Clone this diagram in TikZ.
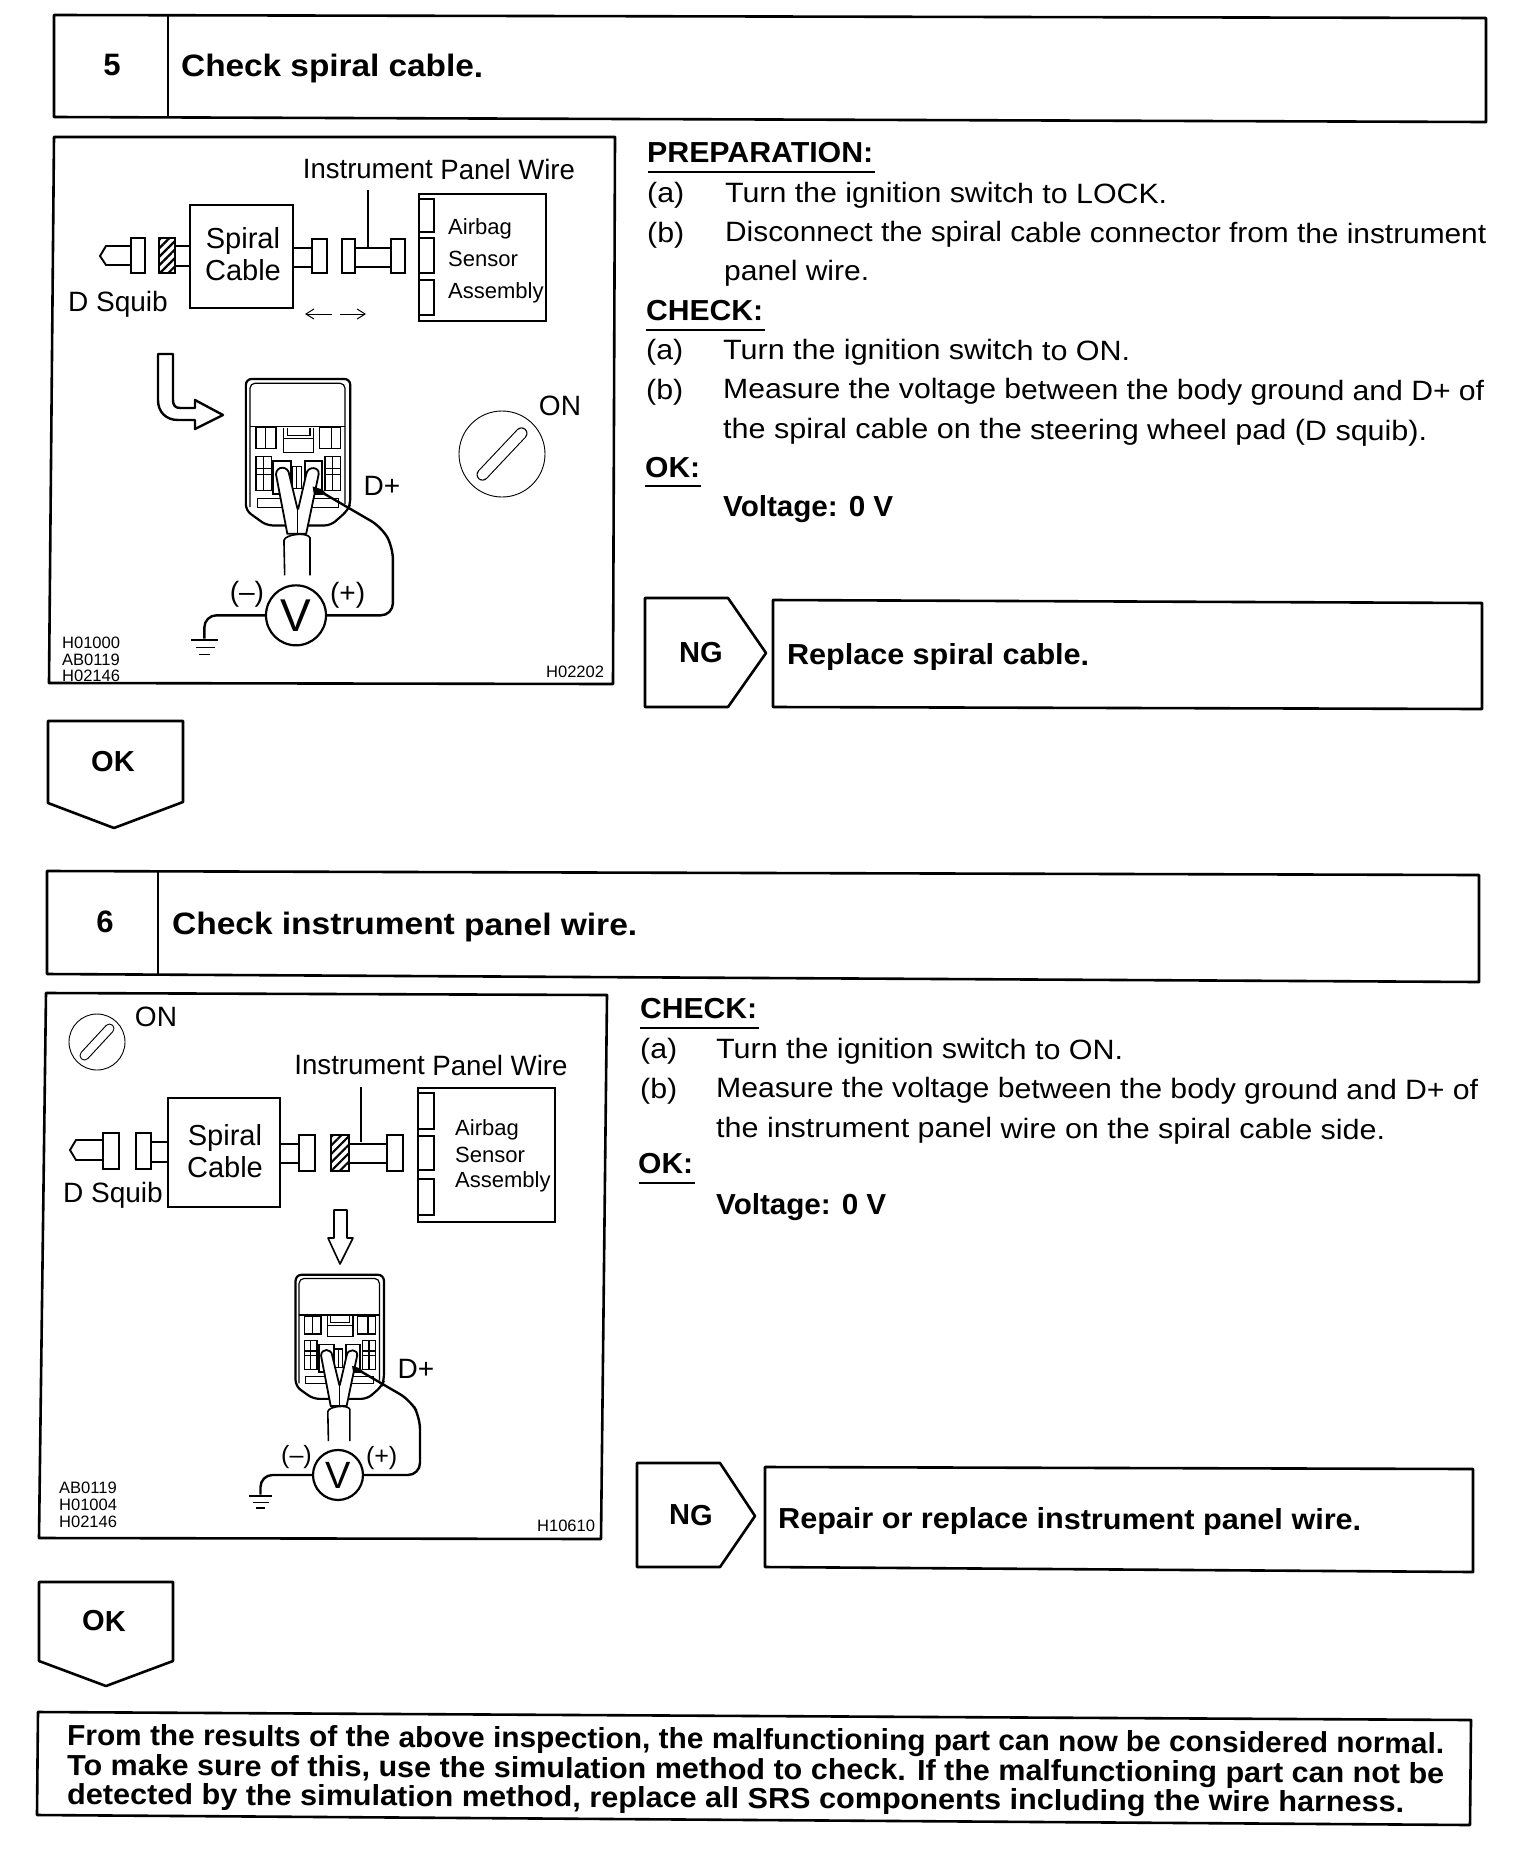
\documentclass[tikz,border=0pt]{standalone}
\usepackage{graphicx}
\usepackage{fontspec}
\setmainfont{Liberation Sans}
\usetikzlibrary{patterns.meta,arrows.meta}
\newcommand\sz[1]{\fontsize{#1}{#1}\selectfont}
% name x y size width text
\newcommand\lbl[6]{\node[txt] (#1) at (#2,#3) {\resizebox{#5pt}{\height}{\sz{#4}#6}};}
\newcommand\blbl[6]{\node[txt] (#1) at (#2,#3) {\resizebox{#5pt}{\height}{\sz{#4}\bfseries #6}};}
\newcommand\ctr[5]{\node[ctxt] (#1) at (#2,#3) {\sz{#4}#5};}
\newcommand\ctb[5]{\node[ctxt] (#1) at (#2,#3) {\sz{#4}\bfseries #5};}
% x y r slot-dx slot-dy width
\newcommand\ignkey[6]{%
  \draw[thinl] (#1,#2) circle (#3);
  \draw[line width=#6pt,line cap=round] (#1-#4,#2+#4*#5) -- (#1+#4,#2-#4*#5);
  \draw[line width=#6pt-2.2pt,line cap=round,white] (#1-#4,#2+#4*#5) -- (#1+#4,#2-#4*#5);}
% prefix Vx Vy sx sy radius Vfont parenfont
\newcommand\meter[8]{%
\begin{scope}[shift={(#2,#3)},xscale=#4,yscale=#5,shift={(-678,-818)},med]
 \draw[line width=2.2pt,rounded corners=6pt] (545,115)--(822,115)--(822,490)--(815,510)--(770,555)--(600,555)--(545,510)--cycle;
 \draw[rounded corners=5pt] (556,500)--(556,128)--(808,128)--(808,490);
 \draw (556,258)--(808,258);
 \draw (572,262) rectangle (625,325) (597,262)--(597,325);
 \draw (740,262) rectangle (795,325) (772,262)--(772,325);
 \draw (645,262)--(645,335)--(725,335)--(725,262) (655,262)--(655,285)--(715,285)--(715,262) (645,295)--(725,295);
 \draw (572,348) rectangle (612,450) (572,385)--(612,385) (572,402)--(612,402) (592,348)--(592,450);
 \draw (755,348) rectangle (795,450) (755,385)--(795,385) (755,402)--(795,402) (775,348)--(775,450);
 \draw[line width=1.8pt] (618,362) rectangle (665,460);
 \draw[line width=1.8pt] (702,362) rectangle (748,460);
 \draw (668,378) rectangle (692,445) (680,378)--(680,445);
 \draw (575,475) rectangle (650,500);
 \draw (715,475) rectangle (790,500);
 % probes
 \draw[fill=white,line width=1.8pt] (625,402) .. controls (625,375) and (658,375) .. (660,402) -- (682,505) -- (684,505) -- (705,402) .. controls (708,375) and (742,378) .. (738,402) -- (705,580) -- (655,580) -- cycle;
 \draw[line width=1.4pt] (682,505)--(682,578);
 \draw[fill=white,draw=none] (648,600) rectangle (715,705);
 \draw[line width=1.6pt] (648,705)--(646,600) .. controls (650,580) and (710,575) .. (715,592) -- (715,705);
 \fill (722,438)--(748,447)--(760,462)--(725,458)--cycle;
 \node[circle,draw,line width=2.2pt,fill=white,minimum size=#6*2pt,inner sep=0pt] (#1V) at (678,825) {\sz{#7}V};
 \coordinate (#1tip) at (735,448);
 \coordinate (#1g) at (435,895);
 \draw[lead,rounded corners=12pt] (#1tip)--(905,560)--(935,620)--(935,825)--(#1V.east);
 \draw[lead,rounded corners=12pt] (#1V.west)--(435,825)--(#1g);
 \draw[line width=2pt] (400,900)--(472,900);
 \draw[line width=1.6pt] (412,922)--(462,922);
 \draw[line width=1.3pt] (422,942)--(450,942);
 \node[ctxt] (#1m) at (548,762) {\sz{#8}(--)};
 \node[ctxt] (#1p) at (815,764) {\sz{#8}(+)};
\end{scope}}
\tikzset{txt/.style={anchor=base west,inner sep=0pt,rotate=-0.2},
 ctxt/.style={anchor=center,inner sep=0pt,rotate=-0.2},
 box/.style={line width=2.6pt,line join=round,fill=white},
 med/.style={line width=1.2pt},
 thinl/.style={line width=0.9pt},
 part/.style={line width=1.9pt,fill=white},
 lead/.style={line width=2.4pt},
 ul/.style={line width=1.6pt},
 smallarrow/.style={line width=1pt,-{Straight Barb[length=8pt,width=10pt]}}}
\begin{document}
\begin{tikzpicture}[x=1pt,y=-1pt]
\useasboundingbox (0,0) rectangle (1520,1850);
\fill[white] (0,0) rectangle (1520,1850);
% ---------- step 5
\draw[box] (54,15)--(1486,18)--(1486,122)--(54,117)--cycle;
\draw[box] (168,16)--(168,118);
\ctb{n5}{112}{65}{31}{5}
\blbl{h5}{181}{76}{31}{302}{Check spiral cable.}
\draw[box] (54,137)--(615,137)--(613,684)--(49,683)--cycle;
\ctr{ipw5}{439}{169}{28}{\resizebox{272pt}{\height}{Instrument Panel Wire}}
\draw[med] (368,190)--(368,247);
\draw[part] (419,194) rectangle (546,321);
\draw[part] (419,199) rectangle (434,232);
\draw[part] (419,238) rectangle (434,273);
\draw[part] (419,280) rectangle (434,315);
\node[txt] (a5a) at (448,234) {\sz{22}Airbag};
\node[txt] (a5b) at (448,266) {\sz{22}Sensor};
\node[txt] (a5c) at (448,298) {\sz{22}Assembly};
\draw[part] (190,205) rectangle (293,308);
\ctr{s5a}{243}{241}{29}{Spiral}
\ctr{s5b}{243}{270}{29}{Cable}
\draw[part] (131,246)--(106,246)--(100,256)--(106,265)--(131,265);
\draw[part] (131,238) rectangle (145,273);
\draw[part,pattern={Lines[angle=45,distance=6pt,line width=2.2pt]}] (159,238) rectangle (175,273);
\draw[part] (175,246)--(190,246) (175,266)--(190,266);
\draw[part] (293,248)--(312,248) (293,267)--(312,267);
\draw[part] (312,239) rectangle (327,273);
\draw[part] (342,239) rectangle (355,273);
\draw[part] (355,248)--(391,248) (355,267)--(391,267);
\draw[part] (391,239) rectangle (405,273);
\draw[smallarrow] (332,314)--(305,314);
\draw[smallarrow] (340,314)--(366,314);
\ctr{sq5}{118}{304}{28}{D Squib}
\draw[line width=2.4pt,line join=round] (158,354)--(173,354)--(173,400) .. controls (173,405) and (175,408) .. (180,408) --(195,408)--(195,400)--(223,415)--(195,429)--(195,420)--(178,420) .. controls (166,420) and (158,412) .. (158,400)--cycle;
\meter{a}{296}{613}{.377}{.333}{30}{46}{28}
\ctr{dp5}{382}{486}{28}{D+}
\ignkey{502}{454}{43}{19.5}{1.06}{12}
\ctr{on5}{560}{406}{28}{ON}
\node[txt] (c5a) at (62,648) {\sz{16.5}H01000};
\node[txt] (c5b) at (62,665) {\sz{16.5}AB0119};
\node[txt] (c5c) at (62,681) {\sz{16.5}H02146};
\node[txt] (c5d) at (546,677) {\sz{16.5}H02202};
% right text 5
\blbl{t1}{647}{162}{29}{226}{PREPARATION:}
\draw[ul] (648,172)--(875,172);
\lbl{t2}{647}{202}{28}{37}{(a)}
\lbl{t3}{725}{202}{28}{442}{Turn the ignition switch to LOCK.}
\lbl{t4}{647}{242}{28}{37}{(b)}
\lbl{t5}{725}{241}{28}{761}{Disconnect the spiral cable connector from the instrument}
\lbl{t6}{724}{280}{28}{145}{panel wire.}
\blbl{t7}{646}{320}{29}{117}{CHECK:}
\draw[ul] (646,330)--(765,330);
\lbl{t8}{646}{359}{28}{37}{(a)}
\lbl{t9}{723}{359}{28}{407}{Turn the ignition switch to ON.}
\lbl{t10}{646}{399}{28}{37}{(b)}
\lbl{t11}{723}{398}{28}{761}{Measure the voltage between the body ground and D+ of}
\lbl{t12}{723}{438}{28}{704}{the spiral cable on the steering wheel pad (D squib).}
\blbl{t13}{645}{477}{29}{55}{OK:}
\draw[ul] (645,486)--(701,486);
\blbl{t14}{723}{516}{29}{170}{Voltage: 0 V}
% NG 5
\draw[box] (645,598)--(728,598)--(766,653)--(728,707)--(645,707)--cycle;
\ctb{ng5}{701}{653}{29}{NG}
\draw[box] (773,600)--(1482,603)--(1482,709)--(773,707)--cycle;
\blbl{r5}{787}{664}{29}{302}{Replace spiral cable.}
\draw[box] (48,721)--(183,721)--(183,802)--(114,828)--(48,803)--cycle;
\ctb{ok5}{113}{762}{29}{OK}
% ---------- step 6
\draw[box] (47,871)--(1479,875)--(1479,982)--(47,974)--cycle;
\draw[box] (158,872)--(158,975);
\ctb{n6}{105}{922}{31}{6}
\blbl{h6}{172}{934}{31}{465}{Check instrument panel wire.}
\draw[box] (46,993)--(607,995)--(601,1539)--(39,1538)--cycle;
\ignkey{97}{1042}{28}{12.5}{1.08}{10}
\ctr{on6}{156}{1017}{28}{ON}
\ctr{ipw6}{431}{1065}{28}{\resizebox{273pt}{\height}{Instrument Panel Wire}}
\draw[med] (361,1087)--(361,1142);
\draw[part] (418,1088) rectangle (555,1222);
\draw[part] (418,1093) rectangle (434,1129);
\draw[part] (418,1136) rectangle (434,1170);
\draw[part] (418,1179) rectangle (434,1215);
\node[txt] (a6a) at (455,1135) {\sz{22}Airbag};
\node[txt] (a6b) at (455,1162) {\sz{22}Sensor};
\node[txt] (a6c) at (455,1187) {\sz{22}Assembly};
\draw[part] (168,1098) rectangle (280,1207);
\ctr{s6a}{225}{1138}{29}{Spiral}
\ctr{s6b}{225}{1167}{29}{Cable}
\draw[part] (103,1140)--(76,1140)--(70,1150)--(76,1160)--(103,1160);
\draw[part] (103,1133) rectangle (119,1169);
\draw[part] (136,1133) rectangle (151,1169);
\draw[part] (151,1142)--(168,1142) (151,1162)--(168,1162);
\draw[part] (280,1144)--(299,1144) (280,1163)--(299,1163);
\draw[part] (299,1135) rectangle (315,1171);
\draw[part,pattern={Lines[angle=45,distance=6pt,line width=2.2pt]}] (331,1135) rectangle (349,1171);
\draw[part] (349,1144)--(387,1144) (349,1163)--(387,1163);
\draw[part] (387,1135) rectangle (403,1171);
\ctr{sq6}{113}{1195}{28}{D Squib}
\draw[line width=1.6pt,line join=round] (334,1210)--(347,1210)--(347,1238)--(353,1238)--(340,1264)--(328,1238)--(334,1238)--cycle;
\meter{b}{338}{1473}{.319}{.282}{25}{38}{25}
\ctr{dp6}{416}{1369}{28}{D+}
\node[txt] (c6a) at (59,1493) {\sz{16.5}AB0119};
\node[txt] (c6b) at (59,1510) {\sz{16.5}H01004};
\node[txt] (c6c) at (59,1527) {\sz{16.5}H02146};
\node[txt] (c6d) at (537,1531) {\sz{16.5}H10610};
% right text 6
\blbl{u1}{640}{1018}{29}{117}{CHECK:}
\draw[ul] (640,1028)--(759,1028);
\lbl{u2}{640}{1058}{28}{37}{(a)}
\lbl{u3}{716}{1058}{28}{407}{Turn the ignition switch to ON.}
\lbl{u4}{640}{1098}{28}{37}{(b)}
\lbl{u5}{716}{1097}{28}{762}{Measure the voltage between the body ground and D+ of}
\lbl{u6}{716}{1137}{28}{669}{the instrument panel wire on the spiral cable side.}
\blbl{u7}{638}{1173}{29}{55}{OK:}
\draw[ul] (639,1183)--(695,1183);
\blbl{u8}{716}{1214}{29}{170}{Voltage: 0 V}
\draw[box] (637,1463)--(720,1463)--(755,1516)--(720,1567)--(637,1567)--cycle;
\ctb{ng6}{691}{1515}{29}{NG}
\draw[box] (765,1467)--(1473,1469)--(1473,1572)--(765,1567)--cycle;
\blbl{r6}{778}{1528}{29}{583}{Repair or replace instrument panel wire.}
\draw[box] (39,1582)--(173,1582)--(173,1661)--(106,1686)--(39,1661)--cycle;
\ctb{ok6}{104}{1621}{29}{OK}
% ---------- note
\draw[box] (38,1712)--(1471,1720)--(1470,1825)--(37,1815)--cycle;
\node[txt,rotate=-0.15] (b1) at (67,1745) {\resizebox{1377pt}{\height}{\sz{29}\bfseries From the results of the above inspection, the malfunctioning part can now be considered normal.}};
\node[txt,rotate=-0.15] (b2) at (67,1775) {\resizebox{1377pt}{\height}{\sz{29}\bfseries To make sure of this, use the simulation method to check. If the malfunctioning part can not be}};
\node[txt,rotate=-0.15] (b3) at (67,1804) {\resizebox{1337pt}{\height}{\sz{29}\bfseries detected by the simulation method, replace all SRS components including the wire harness.}};
\end{tikzpicture}
\end{document}
